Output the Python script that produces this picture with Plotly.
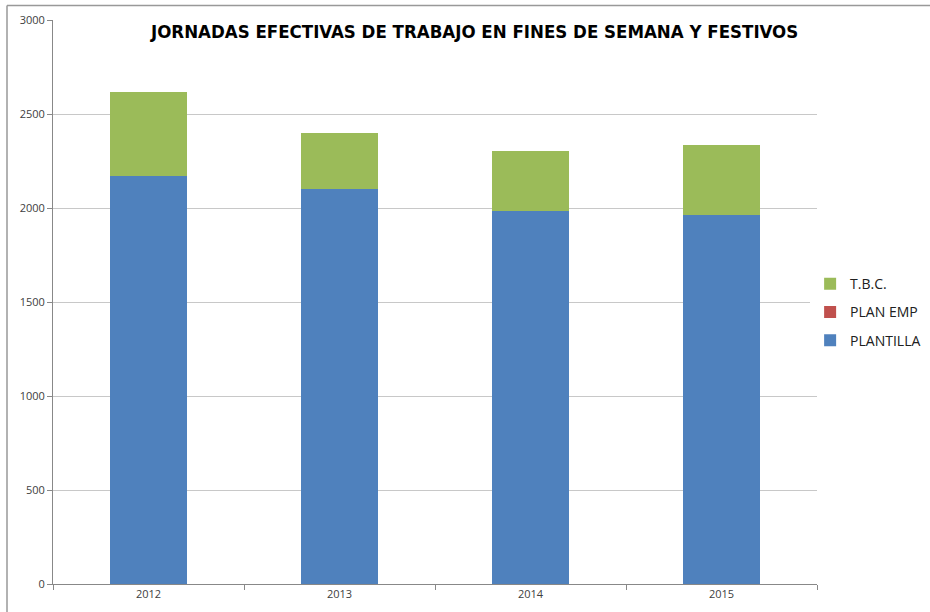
import plotly.graph_objects as go

years = ["2012", "2013", "2014", "2015"]
plantilla = [2170, 2103, 1986, 1964]
plan_emp = [0, 0, 0, 0]
tbc = [449, 298, 315, 373]

series_names = ["PLANTILLA", "PLAN EMP", "T.B.C."]
series_colors = ["#4F81BD", "#C0504D", "#9BBB59"]
series_values = [plantilla, plan_emp, tbc]
legend_ranks = [3, 2, 1]
y_ticks = [0, 500, 1000, 1500, 2000, 2500, 3000]

fig = go.Figure()
for name, color, vals, rank in zip(series_names, series_colors, series_values, legend_ranks):
    fig.add_trace(go.Bar(
        x=years, y=vals, name=name, legendgroup=name, legendrank=rank,
        marker=dict(color=color, line=dict(width=0)),
    ))

fig.update_layout(
    barmode="stack",
    bargap=0.6,
    width=930, height=612,
    margin=dict(l=53, r=113, t=20, b=28, autoexpand=False),
    paper_bgcolor="white",
    plot_bgcolor="white",
    font=dict(family="Open Sans, Liberation Sans, sans-serif", size=11, color="#404040"),
    xaxis=dict(
        showline=True, linecolor="#888888", linewidth=1,
        ticks="outside", ticklen=5, tickcolor="#888888",
        tickson="boundaries",
        tickfont=dict(size=11, color="#404040"),
        showgrid=False,
    ),
    yaxis=dict(
        range=[0, 3000], tickvals=y_ticks,
        showline=True, linecolor="#888888", linewidth=1,
        ticks="outside", ticklen=5, tickcolor="#888888",
        gridcolor="#C8C8C8", gridwidth=1,
        tickfont=dict(size=11, color="#404040"),
        zeroline=False,
    ),
    legend=dict(
        x=0.991, y=0.482, xanchor="left", yanchor="middle",
        traceorder="grouped", tracegroupgap=7,
        font=dict(size=14, color="#202020"),
        itemwidth=30,
    ),
    annotations=[dict(
        text="<b>JORNADAS EFECTIVAS DE TRABAJO EN FINES DE SEMANA Y FESTIVOS</b>",
        xref="paper", yref="paper", x=0.551, y=0.98,
        xanchor="center", yanchor="middle", showarrow=False,
        font=dict(family="DejaVu Sans Condensed, Liberation Sans Narrow, sans-serif", size=18.5, color="#000000"),
    )],
    shapes=[
        dict(type="line", xref="paper", yref="paper",
             x0=-46/764, x1=877/764, y0=(584-5.5)/564, y1=(584-5.5)/564,
             line=dict(color="#999999", width=1.5)),
        dict(type="line", xref="paper", yref="paper",
             x0=-46/764, x1=-46/764, y0=(584-5.5)/564, y1=-30/564,
             line=dict(color="#999999", width=1.5)),
    ],
)

fig.write_html("out.html", config={"displayModeBar": False},
               post_script="document.body.style.margin='0px';")
